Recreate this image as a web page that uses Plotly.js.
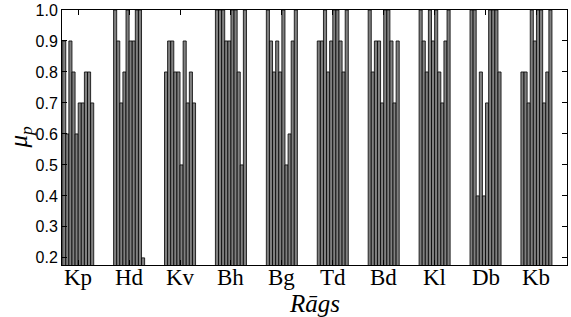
<!DOCTYPE html>
<html>
<head>
<meta charset="utf-8">
<script src="https://cdn.plot.ly/plotly-3.0.1.min.js"></script>
<style>html,body{margin:0;padding:0;background:#fff;}#chart{width:571px;height:317px;}</style>
</head>
<body>
<div id="chart"></div>
<script>
const ragas = ["Kp", "Hd", "Kv", "Bh", "Bg", "Td", "Bd", "Kl", "Db", "Kb"];
// mu_p values per raga (10 bars per raga group)
const Kp = [0.9, 0.6, 0.9, 0.8, 0.6, 0.7, 0.7, 0.8, 0.8, 0.7];
const Hd = [1.0, 0.9, 0.7, 0.8, 1.0, 0.9, 0.9, 1.0, 1.0, 0.2];
const Kv = [0.8, 0.9, 0.9, 0.8, 0.8, 0.5, 0.9, 0.7, 0.8, 0.7];
const Bh = [1.0, 1.0, 1.0, 0.9, 0.9, 1.0, 1.0, 0.8, 0.5, 1.0];
const Bg = [1.0, 0.9, 0.8, 0.9, 0.8, 1.0, 0.5, 0.6, 0.9, 1.0];
const Td = [0.9, 0.9, 1.0, 0.8, 0.9, 1.0, 1.0, 0.9, 0.8, 1.0];
const Bd = [1.0, 0.8, 0.9, 0.9, 0.7, 1.0, 1.0, 0.9, 0.7, 0.9];
const Kl = [1.0, 0.9, 0.8, 1.0, 0.9, 1.0, 0.8, 0.7, 0.9, 1.0];
const Db = [1.0, 1.0, 0.4, 0.8, 0.4, 0.7, 1.0, 1.0, 1.0, 0.8];
const Kb = [0.8, 0.8, 0.7, 1.0, 0.9, 1.0, 1.0, 0.7, 0.8, 1.0];
const yTicks = [0.2, 0.3, 0.4, 0.5, 0.6, 0.7, 0.8, 0.9, 1.0];

const groups = [Kp, Hd, Kv, Bh, Bg, Td, Bd, Kl, Db, Kb];
const nBars = Kp.length;
const traces = [];
for (let j = 0; j < nBars; j++) {
  traces.push({
    type: 'bar',
    x: ragas,
    y: groups.map(g => g[j]),
    name: 'bar ' + (j + 1),
    marker: {color: '#808080', line: {color: '#000000', width: 0.8}},
    showlegend: false,
    hoverinfo: 'x+y'
  });
}

const serif = 'Liberation Serif, Times New Roman, serif';
const annotations = ragas.map(r => ({
  x: r, xref: 'x', y: 0, yref: 'paper',
  xanchor: 'center', yanchor: 'top', yshift: 2,
  text: r, showarrow: false,
  font: {family: serif, size: 23, color: '#000'}
}));
annotations.push({
  x: 0.5, xref: 'paper', y: 0, yref: 'paper',
  xanchor: 'center', yanchor: 'middle', yshift: -38,
  text: '<i>Rāgs</i>', showarrow: false,
  font: {family: serif, size: 25, color: '#000'}
});
annotations.push({
  x: 0, xref: 'paper', y: 0.5, yref: 'paper',
  xanchor: 'center', yanchor: 'middle', xshift: -42, yshift: 0,
  textangle: -90,
  text: '<i>μ<sub>p</sub></i>', showarrow: false,
  font: {family: serif, size: 25, color: '#000'}
});

const layout = {
  width: 571, height: 317,
  margin: {l: 62, r: 4, t: 10, b: 52},
  paper_bgcolor: '#ffffff', plot_bgcolor: '#ffffff',
  barmode: 'group', bargap: 0.39, bargroupgap: 0,
  showlegend: false,
  xaxis: {
    type: 'category',
    range: [-0.318, 9.6],
    showline: true, linecolor: '#000', linewidth: 1, mirror: 'ticks',
    ticks: 'inside', ticklen: 5, tickcolor: '#000',
    showgrid: false, zeroline: false,
    showticklabels: false
  },
  yaxis: {
    range: [0.177, 1.0],
    tickvals: yTicks,
    ticktext: yTicks.map(v => v.toFixed(1)),
    showline: true, linecolor: '#000', linewidth: 1, mirror: 'ticks',
    ticks: 'inside', ticklen: 5, tickcolor: '#000',
    showgrid: false, zeroline: false,
    tickfont: {family: 'Liberation Sans, Arial, sans-serif', size: 16, color: '#000'}
  },
  annotations: annotations
};

Plotly.newPlot('chart', traces, layout, {displayModeBar: false, staticPlot: true});
</script>
</body>
</html>
